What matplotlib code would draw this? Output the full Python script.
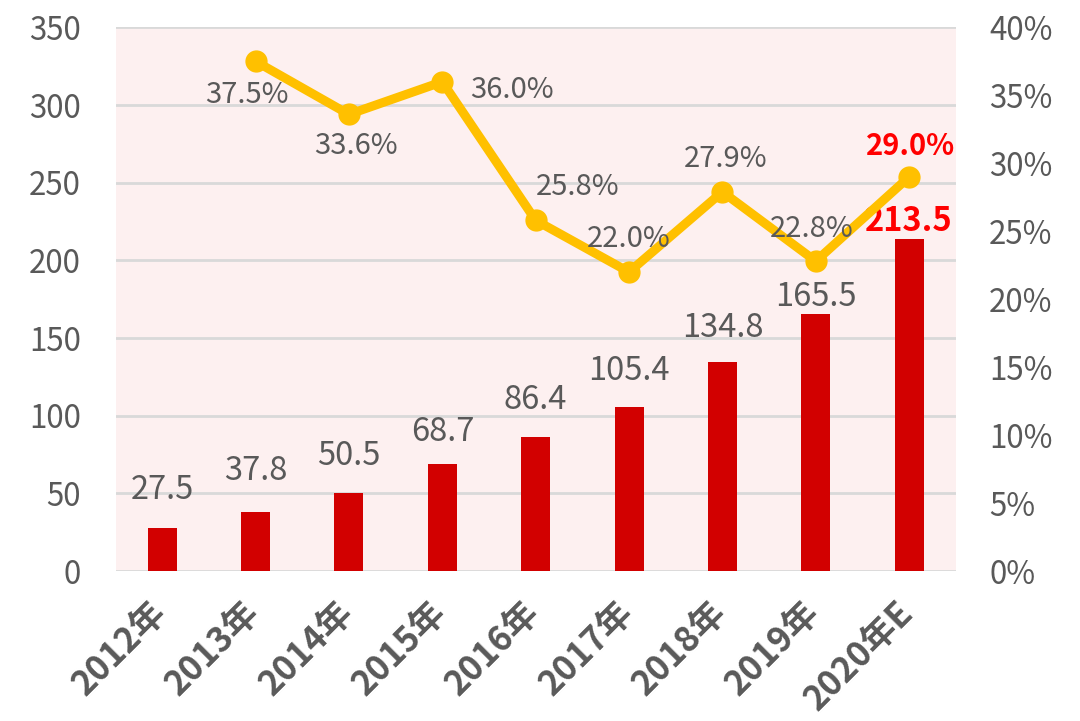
import matplotlib.pyplot as plt
import matplotlib.transforms as mtransforms
import numpy as np

plt.rcParams["font.family"] = ["Noto Sans CJK SC", "DejaVu Sans"]

years = ["2012年", "2013年", "2014年", "2015年", "2016年", "2017年", "2018年", "2019年", "2020年E"]
values = [27.5, 37.8, 50.5, 68.7, 86.4, 105.4, 134.8, 165.5, 213.5]
growth_years = years[1:]
growth = [37.5, 33.6, 36.0, 25.8, 22.0, 27.9, 22.8, 29.0]

# label offsets (points), roughly where Excel put them
bar_offsets = [21, 23, 20, 17, 20, 20, 18, 6, 6]
growth_offsets = [(-6, -24), (5, -23), (50, -6), (30, 24), (0, 24), (2, 24), (-3, 23), (1, 22)]

GRAY = "#595959"
BAR_RED = "#D20000"
HIGHLIGHT = "#FF0000"
LINE_YEL = "#FFC000"

fig, ax = plt.subplots(figsize=(10.8, 7.21), dpi=100)
fig.subplots_adjust(left=0.107, right=0.885, top=0.962, bottom=0.208)

x = np.arange(len(years))
ax.set_facecolor("#FDF0F0")
ax.bar(x, values, width=0.31, color=BAR_RED, zorder=3)
for i, v in enumerate(values):
    last = i == len(values) - 1
    ax.annotate(f"{v:.1f}", (x[i], v), xytext=(0, bar_offsets[i]), textcoords="offset points",
                ha="center", va="baseline", fontsize=23.5,
                color=HIGHLIGHT if last else GRAY, fontweight="bold" if last else "normal",
                zorder=5)

ax.set_ylim(0, 350)
ax.set_yticks(np.arange(0, 351, 50))
ax.set_xlim(-0.5, len(years) - 0.5)
ax.grid(axis="y", color="#D9D9D9", linewidth=2, zorder=0)
ax.set_axisbelow(True)
for s in ax.spines.values():
    s.set_visible(False)
ax.tick_params(axis="y", length=0, labelsize=22.5, labelcolor=GRAY, pad=25)
ax.tick_params(axis="x", length=0, pad=17)
ax.set_xticks(x)
ax.set_xticklabels(years, rotation=45, ha="right", rotation_mode="anchor",
                   fontsize=25, fontweight="bold", color=GRAY)
# nudge the rotated labels a bit to the left, like Excel does
shift = mtransforms.ScaledTranslation(-10 / 72, 0, fig.dpi_scale_trans)
for lbl in ax.get_xticklabels():
    lbl.set_transform(lbl.get_transform() + shift)

ax2 = ax.twinx()
ax2.set_ylim(0, 40)
ax2.set_yticks(np.arange(0, 41, 5))
ax2.set_yticklabels([f"{t}%" for t in range(0, 41, 5)])
ax2.tick_params(axis="y", length=0, labelsize=22.5, labelcolor=GRAY, pad=24)
for s in ax2.spines.values():
    s.set_visible(False)
gx = x[1:]
ax2.plot(gx, growth, color=LINE_YEL, linewidth=6.5, marker="o", markersize=15,
         solid_capstyle="round", zorder=4)
for i, g in enumerate(growth):
    last = i == len(growth) - 1
    ax2.annotate(f"{g:.1f}%", (gx[i], g), xytext=growth_offsets[i], textcoords="offset points",
                 ha="center", va="center", fontsize=21,
                 color=HIGHLIGHT if last else GRAY, fontweight="bold" if last else "normal",
                 zorder=6)

fig.savefig("out.png")
